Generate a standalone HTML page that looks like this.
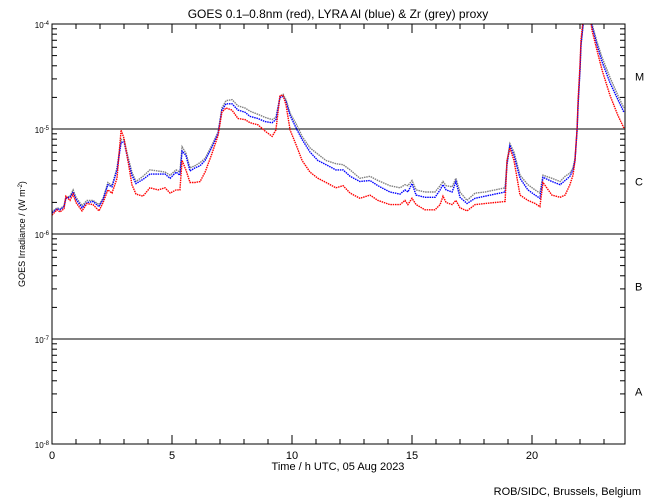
<!DOCTYPE html>
<html><head><meta charset="utf-8">
<style>
body{margin:0;background:#fff;}
svg{display:block;font-family:"Liberation Sans",sans-serif;}
</style></head>
<body>
<svg id="chart" width="650" height="500" viewBox="0 0 650 500">
<rect width="650" height="500" fill="#fff"/>
<text x="338" y="18" font-size="12" text-anchor="middle">GOES 0.1–0.8nm (red), LYRA Al (blue) &amp; Zr (grey) proxy</text>
<text transform="translate(25,234) rotate(-90)" font-size="9" text-anchor="middle">GOES Irradiance / (W m<tspan baseline-shift="super" font-size="6">-2</tspan>)</text>
<text x="338" y="470" font-size="11" text-anchor="middle">Time / h UTC, 05 Aug 2023</text>
<text x="641" y="495" font-size="11" text-anchor="end">ROB/SIDC, Brussels, Belgium</text>
<g id="grid"></g>
<g id="series"></g>
<rect x="52" y="24" width="573" height="420" fill="none" stroke="#000" stroke-width="1"/>
<g id="axes"></g>
</svg>
<script>
const times=[0,0.21,0.33,0.5,0.58,0.75,0.88,1.0,1.25,1.46,1.71,1.96,2.13,2.33,2.5,2.71,2.88,3.0,3.17,3.33,3.5,3.79,4.08,4.42,4.71,4.92,5.17,5.33,5.42,5.58,5.75,5.96,6.17,6.38,6.67,6.92,7.08,7.25,7.5,7.75,8.04,8.25,8.58,8.88,9.17,9.33,9.5,9.63,9.75,9.92,10.17,10.42,10.75,11.08,11.42,11.83,12.13,12.42,12.83,13.25,13.58,14.08,14.5,14.71,14.83,15.0,15.17,15.54,15.96,16.17,16.29,16.42,16.67,16.83,17.0,17.29,17.63,18.04,18.46,18.88,18.96,19.08,19.25,19.5,19.83,20.13,20.33,20.46,20.83,21.17,21.38,21.58,21.71,21.79,21.88,21.92,22.0,22.04,22.13,22.33,22.5,22.71,22.92,23.25,23.58,23.83];
const redLog=[-5.82,-5.77,-5.79,-5.76,-5.64,-5.68,-5.62,-5.70,-5.78,-5.71,-5.72,-5.78,-5.70,-5.58,-5.61,-5.47,-5.01,-5.09,-5.31,-5.53,-5.62,-5.64,-5.56,-5.58,-5.56,-5.61,-5.58,-5.58,-5.30,-5.39,-5.51,-5.51,-5.50,-5.41,-5.23,-5.06,-4.84,-4.80,-4.82,-4.90,-4.91,-4.94,-4.96,-5.02,-5.07,-5.01,-4.68,-4.68,-4.77,-5.01,-5.15,-5.30,-5.41,-5.47,-5.51,-5.56,-5.54,-5.61,-5.66,-5.63,-5.68,-5.72,-5.72,-5.68,-5.72,-5.66,-5.72,-5.77,-5.77,-5.72,-5.64,-5.70,-5.72,-5.68,-5.75,-5.78,-5.72,-5.71,-5.70,-5.69,-5.30,-5.18,-5.30,-5.63,-5.68,-5.71,-5.74,-5.51,-5.63,-5.65,-5.63,-5.53,-5.44,-5.30,-4.99,-4.72,-4.39,-4.15,-3.96,-3.77,-4.06,-4.25,-4.44,-4.68,-4.87,-4.99];
const blueLog=[-5.80,-5.76,-5.77,-5.74,-5.66,-5.65,-5.60,-5.67,-5.75,-5.70,-5.69,-5.74,-5.67,-5.53,-5.55,-5.39,-5.13,-5.12,-5.30,-5.44,-5.52,-5.48,-5.43,-5.43,-5.43,-5.47,-5.41,-5.44,-5.21,-5.25,-5.40,-5.37,-5.35,-5.30,-5.17,-5.04,-4.82,-4.76,-4.76,-4.82,-4.84,-4.88,-4.90,-4.93,-4.94,-4.91,-4.70,-4.69,-4.74,-4.87,-4.99,-5.10,-5.22,-5.30,-5.34,-5.39,-5.39,-5.45,-5.50,-5.49,-5.54,-5.60,-5.62,-5.58,-5.60,-5.52,-5.63,-5.65,-5.65,-5.58,-5.53,-5.58,-5.60,-5.50,-5.65,-5.71,-5.66,-5.64,-5.62,-5.60,-5.34,-5.16,-5.25,-5.47,-5.58,-5.63,-5.66,-5.46,-5.50,-5.53,-5.49,-5.45,-5.39,-5.30,-5.01,-4.77,-4.44,-4.20,-4.01,-3.82,-4.02,-4.20,-4.36,-4.56,-4.72,-4.84];
const greyLog=[-5.79,-5.75,-5.76,-5.73,-5.65,-5.64,-5.58,-5.65,-5.73,-5.68,-5.68,-5.72,-5.66,-5.51,-5.54,-5.37,-5.10,-5.10,-5.27,-5.41,-5.50,-5.45,-5.39,-5.40,-5.41,-5.44,-5.39,-5.41,-5.17,-5.23,-5.37,-5.35,-5.32,-5.28,-5.15,-5.03,-4.80,-4.73,-4.72,-4.78,-4.80,-4.83,-4.86,-4.89,-4.91,-4.89,-4.69,-4.67,-4.72,-4.85,-4.95,-5.07,-5.18,-5.24,-5.30,-5.33,-5.34,-5.39,-5.47,-5.45,-5.49,-5.54,-5.56,-5.53,-5.54,-5.49,-5.58,-5.60,-5.60,-5.54,-5.50,-5.54,-5.55,-5.47,-5.60,-5.68,-5.61,-5.60,-5.58,-5.56,-5.31,-5.14,-5.22,-5.44,-5.53,-5.58,-5.61,-5.44,-5.47,-5.50,-5.45,-5.42,-5.37,-5.28,-5.01,-4.77,-4.44,-4.20,-4.01,-3.82,-4.00,-4.17,-4.32,-4.51,-4.68,-4.80];
const xTicks=[0,5,10,15,20];
const yDecades=[-8,-7,-6,-5,-4];
const classLabels=["A","B","C","M"];

const NS="http://www.w3.org/2000/svg";
const X0=52,X1=625,Y0=444,Y1=24;
function xs(h){return X0+h*24;}
function ys(l){return Y0-(l+8)*105;}
function mk(tag,attrs,parent){const e=document.createElementNS(NS,tag);for(const k in attrs)e.setAttribute(k,attrs[k]);parent.appendChild(e);return e;}

const grid=document.getElementById('grid');
[-7,-6,-5].forEach(d=>{
  const l=mk('line',{x1:X0,x2:X1,y1:ys(d),y2:ys(d),stroke:'#000','stroke-width':1},grid);
  
  
});

const axes=document.getElementById('axes');
for(let h=0;h<=23;h++){
  const major=xTicks.includes(h);const len=major?9:5;const x=xs(h);
  const t1=mk('line',{x1:x,x2:x,y1:Y0,y2:Y0-len,stroke:'#000'},axes);
  
  
  const t2=mk('line',{x1:x,x2:x,y1:Y1,y2:Y1+len,stroke:'#000'},axes);
  
  
}
xTicks.forEach(h=>{
  const t=mk('text',{x:xs(h),y:Y0+15,'font-size':11,'text-anchor':'middle'},axes);t.textContent=h;
  
  
});
yDecades.forEach(d=>{
  const y=ys(d);
  [[X0,X0+9],[X1,X1-9]].forEach(p=>{mk('line',{x1:p[0],x2:p[1],y1:y,y2:y,stroke:'#000'},axes);});
  const t=mk('text',{x:X0-3,y:y+4,'font-size':8,'text-anchor':'end'},axes);
  
  
  t.innerHTML='10<tspan baseline-shift="super" font-size="6">'+d+'</tspan>';
  if(d<-4){for(let m=2;m<=9;m++){const yy=ys(d+Math.log10(m));
    [[X0,X0+5],[X1,X1-5]].forEach(p=>{mk('line',{x1:p[0],x2:p[1],y1:yy,y2:yy,stroke:'#000'},axes);});}}
});
classLabels.forEach((c,i)=>{
  const t=mk('text',{x:X1+10,y:ys(-8+i+0.5)+4,'font-size':11},axes);t.textContent=c;
  
  
});

const series=document.getElementById('series');
const clip=mk('clipPath',{id:'pc'},series);mk('rect',{x:X0,y:Y1,width:X1-X0,height:Y0-Y1},clip);
[[greyLog,'#808080','zr-proxy-series'],[blueLog,'#0000ff','al-proxy-series'],[redLog,'#ff0000','goes-series']].forEach(s=>{
  const pts=times.map((t,i)=>xs(t).toFixed(1)+','+ys(s[0][i]).toFixed(1)).join(' ');
  const p=mk('polyline',{points:pts,fill:'none',stroke:s[1],'stroke-width':1.4,'stroke-dasharray':'1.5 0.8','clip-path':'url(#pc)'},series);
  
  
});
</script>
</body></html>
